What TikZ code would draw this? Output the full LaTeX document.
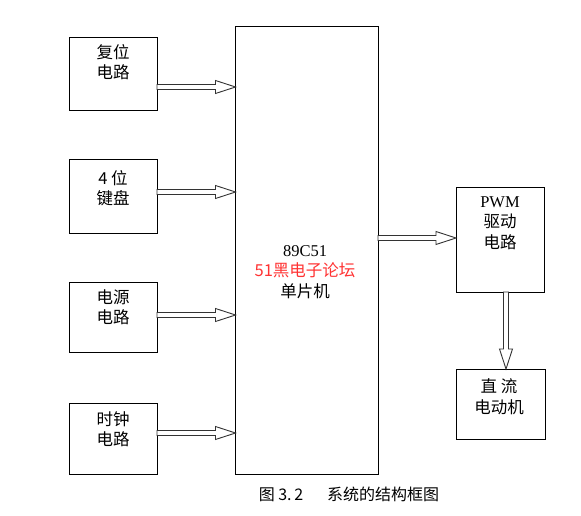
\documentclass[tikz,border=0pt]{standalone}
\usepackage{fontspec}
\setmainfont{Liberation Serif}
\newfontfamily\cjk{Noto Sans CJK SC}
\usetikzlibrary{calc}

% hollow arrow, left to right: from node, to node, height
\newcommand{\hollowright}[3]{%
  \draw[hollow] let \p1=(#1.east), \p2=(#2.west), \p3=(0,#3) in
    (\x1,\y3+2.5pt) -- (\x2-20pt,\y3+2.5pt) -- (\x2-20pt,\y3+6.5pt) -- (\x2,\y3)
    -- (\x2-20pt,\y3-6.5pt) -- (\x2-20pt,\y3-2.5pt) -- (\x1,\y3-2.5pt) -- cycle;}
% hollow arrow, top to bottom: from node, to node, x position
\newcommand{\hollowdown}[3]{%
  \draw[hollow] let \p1=(#1.south), \p2=(#2.north), \p3=(#3,0) in
    (\x3-2.5pt,\y1) -- (\x3-2.5pt,\y2+20pt) -- (\x3-6.5pt,\y2+20pt) -- (\x3,\y2)
    -- (\x3+6.5pt,\y2+20pt) -- (\x3+2.5pt,\y2+20pt) -- (\x3+2.5pt,\y1) -- cycle;}

\begin{document}
\begin{tikzpicture}[x=1pt, y=-1pt,
    box/.style={draw, line width=1pt, inner sep=0pt, outer sep=0pt, minimum width=88pt},
    txt/.style={align=center, inner sep=0pt, font=\cjk\fontsize{16.5}{20.5}\selectfont},
    hollow/.style={draw=black!80, line width=0.9pt, fill=white, line join=miter}
  ]
  \useasboundingbox (0,0) rectangle (581,516);
  % Input blocks
  \node[box, minimum height=73pt] (reset) at (113,74.5) {};
  \node[box, minimum height=73pt] (keypad) at (113,196.5) {};
  \node[box, minimum height=70pt] (power) at (113,317) {};
  \node[box, minimum height=71pt] (clock) at (113,438.5) {};
  \node[txt] (resettxt) at (113,62) {复位\\电路};
  \node[txt] (keypadtxt) at (113,188) {4 位\\键盘};
  \node[txt] (powertxt) at (113,307) {电源\\电路};
  \node[txt] (clocktxt) at (113,429) {时钟\\电路};
  % Microcontroller
  \node[box, minimum width=142.5pt, minimum height=447pt] (mcu) at (306.75,250.5) {};
  \node[txt] (mcutxt) at (305,272) {{\rmfamily 89C51}\\\textcolor{red!80}{51黑电子论坛}\\单片机};
  % Output blocks
  \node[box, minimum height=105pt] (pwm) at (500,239.5) {};
  \node[box, minimum width=89pt, minimum height=70pt] (motor) at (500.5,404) {};
  \node[txt] (pwmtxt) at (500,223) {{\rmfamily PWM}\\驱动\\电路};
  \node[txt] (motortxt) at (499,396.5) {直\ 流\\电动机};
  % Connectors
  \hollowright{reset}{mcu}{87}
  \hollowright{keypad}{mcu}{192}
  \hollowright{power}{mcu}{315}
  \hollowright{clock}{mcu}{433}
  \hollowright{mcu}{pwm}{238}
  \hollowdown{pwm}{motor}{506}
  % Caption
  \node[font=\cjk\fontsize{16}{18}\selectfont, inner sep=0pt] (caption) at (349,494) {图 3.\,2\hspace{24pt}系统的结构框图};
\end{tikzpicture}
\end{document}
